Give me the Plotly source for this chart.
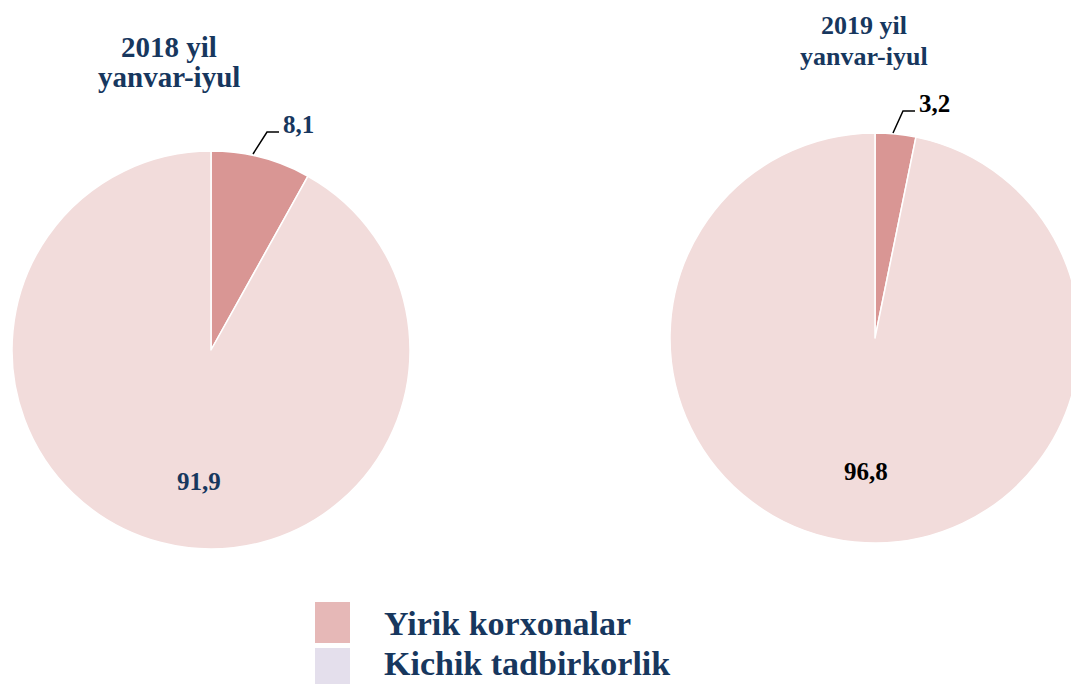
import plotly.graph_objects as go

W, H = 1080, 684  # figure a bit wider than the 1071 window; right pie is clipped as in the reference

categories = ["Yirik korxonalar", "Kichik tadbirkorlik"]
values_2018 = [8.1, 91.9]
values_2019 = [3.2, 96.8]
title_2018 = ["2018 yil", "yanvar-iyul"]
title_2019 = ["2019 yil", "yanvar-iyul"]

slice_colors = ["#d99694", "#f2dcdb"]
legend_colors = ["#e6b8b7", "#e4dfec"]
navy = "#17375e"
FONT = "Liberation Serif, Times New Roman, serif"


def px(x):
    return x / W


def py(y):
    return 1 - y / H


def fmt(v):
    return f"{v:.1f}".replace(".", ",")


fig = go.Figure()

# left pie: center (211,350), r 199
fig.add_trace(go.Pie(
    labels=categories, values=values_2018, sort=False, direction="clockwise",
    rotation=0, textinfo="none", hoverinfo="label+value", showlegend=False,
    marker=dict(colors=slice_colors, line=dict(color="white", width=1.5)),
    domain=dict(x=[px(12), px(410)], y=[py(549), py(151)]),
))
# right pie: center (875,338), r 205
fig.add_trace(go.Pie(
    labels=categories, values=values_2019, sort=False, direction="clockwise",
    rotation=0, textinfo="none", hoverinfo="label+value", showlegend=False,
    marker=dict(colors=slice_colors, line=dict(color="white", width=1.5)),
    domain=dict(x=[px(670), px(1080)], y=[py(543), py(133)]),
))

ann = []
# titles
ann.append(dict(x=px(169), y=py(47), text=f"<b>{title_2018[0]}</b>", font=dict(size=29, color=navy, family=FONT)))
ann.append(dict(x=px(169), y=py(77), text=f"<b>{title_2018[1]}</b>", font=dict(size=29, color=navy, family=FONT)))
ann.append(dict(x=px(864), y=py(26), text=f"<b>{title_2019[0]}</b>", font=dict(size=26, color=navy, family=FONT)))
ann.append(dict(x=px(864), y=py(56), text=f"<b>{title_2019[1]}</b>", font=dict(size=26, color=navy, family=FONT)))

# data labels
ann.append(dict(x=px(298), y=py(125), text=f"<b>{fmt(values_2018[0])}</b>", font=dict(size=25, color=navy, family=FONT)))
ann.append(dict(x=px(199), y=py(481), text=f"<b>{fmt(values_2018[1])}</b>", font=dict(size=25, color=navy, family=FONT)))
ann.append(dict(x=px(934), y=py(103), text=f"<b>{fmt(values_2019[0])}</b>", font=dict(size=25, color="black", family=FONT)))
ann.append(dict(x=px(866), y=py(471), text=f"<b>{fmt(values_2019[1])}</b>", font=dict(size=25, color="black", family=FONT)))

# legend text
ann.append(dict(x=px(382), y=py(623), xanchor="left", text=f"<b>{categories[0]}</b>", font=dict(size=34, color=navy, family=FONT)))
ann.append(dict(x=px(382), y=py(663), xanchor="left", text=f"<b>{categories[1]}</b>", font=dict(size=34, color=navy, family=FONT)))

for a in ann:
    a.update(xref="paper", yref="paper", showarrow=False)
    a.setdefault("xanchor", "center")
    a.setdefault("yanchor", "middle")

shapes = []
# leader lines
shapes.append(dict(type="path", path=f"M {px(253)},{py(154)} L {px(267)},{py(132)} L {px(279)},{py(132)}",
                   line=dict(color="black", width=1.5)))
shapes.append(dict(type="path", path=f"M {px(893)},{py(133)} L {px(903)},{py(111)} L {px(915)},{py(111)}",
                   line=dict(color="black", width=1.5)))
# legend swatches
shapes.append(dict(type="rect", x0=px(315), x1=px(350), y0=py(643), y1=py(602),
                   fillcolor=legend_colors[0], line=dict(width=0)))
shapes.append(dict(type="rect", x0=px(315), x1=px(350), y0=py(684), y1=py(648),
                   fillcolor=legend_colors[1], line=dict(width=0)))
for s in shapes:
    s.update(xref="paper", yref="paper")

fig.update_layout(
    width=W, height=H, margin=dict(l=0, r=0, t=0, b=0),
    paper_bgcolor="white", plot_bgcolor="white",
    annotations=ann, shapes=shapes, showlegend=False,
)

fig.write_html(
    "out.html",
    config={"displayModeBar": False},
    post_script="document.body.style.margin='0';document.body.style.overflow='hidden';",
)
